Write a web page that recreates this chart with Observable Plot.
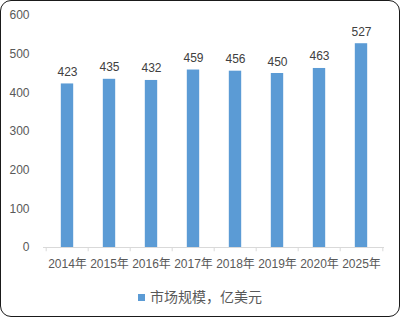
<!DOCTYPE html>
<html><head><meta charset="utf-8">
<script src="https://cdn.jsdelivr.net/npm/d3@7"></script>
<script src="https://cdn.jsdelivr.net/npm/@observablehq/plot@0.6"></script>
<style>
body{margin:0;background:#fff;}
#wrap{position:relative;width:400px;height:317px;overflow:hidden;font-family:"Liberation Sans","Noto Sans CJK SC",sans-serif;}
#frame{position:absolute;left:0;top:0;width:400px;height:317px;box-sizing:border-box;border:1px solid #1a1a1a;border-radius:11px;pointer-events:none;}
#chart{position:absolute;left:0;top:0;}
#legend{position:absolute;left:0;top:286px;width:400px;text-align:center;font-size:14px;color:#595959;font-family:"Noto Sans CJK SC",sans-serif;}
#legend .sw{display:inline-block;width:7px;height:7px;background:#5B9BD5;margin-right:5px;vertical-align:middle;position:relative;top:-1px;}
</style></head>
<body>
<div id="wrap"><div id="chart"></div><div id="legend"><span class="sw"></span><span id="legtext"></span></div><div id="frame"></div></div>
<script>
const categories = ["2014年","2015年","2016年","2017年","2018年","2019年","2020年","2025年"];
const values = [423,435,432,459,456,450,463,527];
const seriesName = "市场规模，亿美元";
const yTicks = [0,100,200,300,400,500,600];

const data = categories.map((c,i)=>({cat:c, v:values[i]}));
const W = 400, H = 280, mL = 43, mR = 16;
const bw = (W - mL - mR) / categories.length;

const chart = Plot.plot({
  width: W, height: H,
  marginLeft: mL, marginRight: mR, marginTop: 15, marginBottom: 33,
  style: {fontFamily: '"Liberation Sans","Noto Sans CJK SC",sans-serif', fontSize: "12px", color: "#595959", background: "transparent"},
  x: {domain: categories, padding: 0, label: null},
  y: {domain: [0,600], ticks: yTicks, label: null},
  marks: [
    Plot.barY(data, {x:"cat", y:"v", fill:"#5B9BD5", insetLeft: (bw-13)/2, insetRight:(bw-13)/2}),
    Plot.ruleY([0], {stroke:"#d9d9d9", strokeWidth:1}),
    Plot.ruleX(categories, {x: d=>d, y1:0, y2:-11, dx:-bw/2, stroke:"#d9d9d9"}),
    Plot.ruleX([categories[categories.length-1]], {x: d=>d, y1:0, y2:-11, dx:bw/2, stroke:"#d9d9d9"}),
    Plot.text(data, {x:"cat", y:"v", text: d=>String(d.v), lineAnchor:"bottom", dy:-8, fill:"#404040", fontSize:12}),
    Plot.axisY({ticks: yTicks, tickSize:0, tickPadding:14, fill:"#595959", fontSize:12, label:null}),
    Plot.axisX({tickSize:0, tickPadding:12, fill:"#595959", fontSize:12, label:null, fontFamily:'"Liberation Sans","Noto Sans CJK SC",sans-serif'})
  ]
});
document.getElementById("chart").appendChild(chart);
document.getElementById("legtext").textContent = seriesName;
</script>
</body></html>
